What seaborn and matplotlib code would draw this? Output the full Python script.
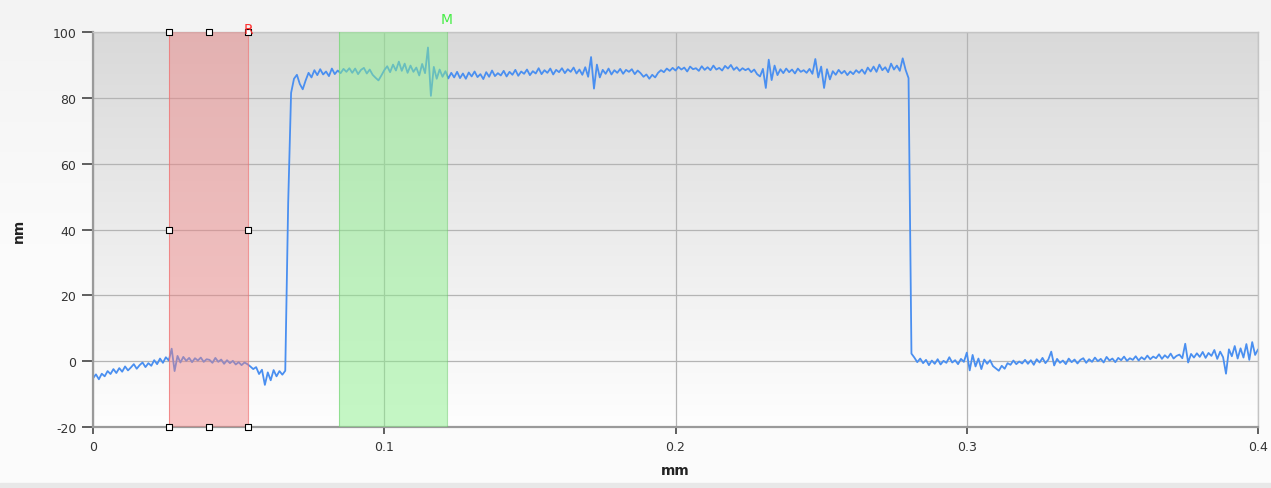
import numpy as np
import pandas as pd
import matplotlib
matplotlib.use('Agg')
import matplotlib.pyplot as plt
import seaborn as sns
from matplotlib.colors import LinearSegmentedColormap
from matplotlib.patches import Rectangle

# 데이터: 0.001 mm 간격으로 읽은 높이 프로파일 (nm)
height_nm = [
    -5.2, -4.0, -5.5, -3.8, -4.6, -3.0, -3.9, -2.4, -3.6, -2.1, -3.2, -1.6, -2.8, -1.9, -0.9, -2.3, -1.2, -0.4, -1.8, -0.6,
    -1.4, 0.3, -0.9, 0.8, -0.5, 1.2, 0.2, 3.8, -3.0, 1.6, -0.4, 1.3, 0.1, 1.0, -0.3, 0.9, 0.2, 1.1, -0.2, 0.6,
    0.4, -0.5, 1.0, -0.2, 0.5, -0.8, 0.3, -0.6, 0.1, -1.0, -0.3, -1.2, -0.4, -0.9, -1.6, -2.4, -1.8, -3.9, -2.6, -7.2,
    -3.4, -5.8, -2.7, -4.6, -3.0, -4.1, -2.9, 48.0, 81.5, 85.8, 87.0, 84.2, 82.6, 85.3, 87.6, 86.2, 88.4, 86.9, 88.7, 87.1,
    88.0, 86.6, 88.9, 87.2, 88.3, 87.5, 88.8, 87.9, 89.0, 87.6, 88.9, 87.2, 88.5, 89.1, 87.4, 88.6, 87.0, 86.1, 85.3, 86.8,
    88.4, 89.6, 87.8, 90.1, 88.3, 91.0, 88.2, 90.4, 87.6, 89.8, 87.9, 89.2, 86.8, 90.3, 87.5, 95.3, 80.6, 89.4, 85.8, 88.6,
    86.4, 88.1, 85.9, 87.6, 86.2, 87.9, 86.0, 87.4, 85.8, 87.7, 86.5, 88.0, 86.3, 87.2, 85.7, 87.8, 86.4, 88.3, 86.6, 87.5,
    86.8, 88.2, 86.5, 87.9, 87.0, 88.5, 86.7, 88.0, 87.3, 88.6, 86.9, 88.1, 87.4, 89.0, 87.2, 88.4, 87.6, 88.9, 87.1, 88.5,
    87.8, 89.0, 87.5, 88.7, 87.9, 89.2, 87.4, 88.6, 87.0, 89.3, 86.4, 92.4, 82.8, 90.1, 86.2, 88.5, 87.3, 88.9, 87.1, 88.4,
    87.6, 88.8, 87.3, 88.5, 87.9, 88.7, 87.2, 88.3, 87.5, 86.4, 87.1, 85.8, 87.0, 86.2, 87.6, 88.4, 87.8, 88.9, 88.2, 89.1,
    88.3, 89.4, 88.6, 89.2, 88.0, 89.5, 88.7, 89.0, 88.2, 89.6, 88.5, 89.3, 88.4, 89.8, 88.6, 89.1, 88.3, 89.7, 88.9, 90.0,
    88.5, 89.3, 88.2, 89.0, 88.4, 88.9, 87.8, 88.6, 87.2, 86.5, 88.8, 83.0, 91.6, 85.4, 89.8, 86.9, 88.7, 87.5, 88.9, 87.8,
    88.6, 87.4, 88.9, 87.9, 88.4, 87.6, 88.8, 87.3, 91.8, 86.2, 89.5, 83.0, 88.7, 85.6, 88.1, 87.0, 88.5, 87.4, 88.2, 86.9,
    88.0, 87.2, 88.4, 87.6, 88.6, 87.3, 89.2, 88.0, 89.5, 87.9, 90.1, 88.4, 89.3, 87.8, 90.4, 88.6, 89.8, 88.2, 92.0, 88.5,
    86.0, 2.3, 1.1, -0.3, 0.8, -0.6, 0.4, -1.2, 0.2, -0.8, 0.6, -1.0, 0.1, -0.5, 1.2, -0.4, 0.3, -0.9, 0.7, -0.2,
    2.6, -2.8, 1.9, -1.6, 0.8, -2.4, 0.5, -0.8, 0.3, -1.5, -2.2, -2.9, -1.4, -2.3, -0.6, -1.1, 0.2, -0.9, -0.1, -0.7,
    0.4, -0.8, 0.3, -1.1, 0.6, -0.4, 1.0, -0.6, 0.5, 2.9, -1.3, 0.7, -0.5, 0.2, -0.9, 0.8, -0.3, 0.5, -0.7, 0.4,
    0.9, -0.5, 0.6, -0.2, 1.1, 0.0, 0.7, -0.4, 1.3, 0.2, 0.8, -0.3, 1.0, 0.3, 1.4, 0.1, 0.9, 0.4, 1.5, 0.2,
    1.2, 0.5, 1.7, 0.6, 1.4, 0.9, 2.1, 0.7, 1.8, 1.0, 2.3, 0.8, 1.6, 2.0, 0.9, 5.3, -0.4, 2.2, 1.1, 2.4,
    1.3, 2.8, 1.0, 2.5, 1.6, 3.4, 0.7, 2.9, 1.2, -3.8, 3.6, 1.5, 4.6, 0.8, 3.9, 1.1, 5.2, 0.4, 5.8, 1.9,
    3.6,
]
position_mm = np.linspace(0, 0.4, len(height_nm))

# 기준(R) / 측정(M) 구간 (mm)
ref_range = [0.0261, 0.0532]
meas_range = [0.0845, 0.1215]

x_ticks = [0, 0.1, 0.2, 0.3, 0.4]
x_tick_labels = ['0', '0.1', '0.2', '0.3', '0.4']
y_ticks = [-20, 0, 20, 40, 60, 80, 100]

df = pd.DataFrame({'mm': position_mm, 'nm': height_nm})

sns.set_theme(style='white')
plt.rcParams['font.family'] = ['DejaVu Sans']
plt.rcParams['axes.unicode_minus'] = False

fig = plt.figure(figsize=(12.71, 4.89), dpi=100)

# 배경 그라데이션
bg = fig.add_axes([0, 0, 1, 1], zorder=-10)
bg_cmap = LinearSegmentedColormap.from_list('bg', ['#f3f3f3', '#fbfbfb', '#fcfcfc'])
bg.imshow(np.linspace(0, 1, 256).reshape(-1, 1), cmap=bg_cmap, aspect='auto', extent=[0, 1, 0, 1], origin='upper')
bg.axis('off')
fig.patches.append(Rectangle((0, 0), 1, 5 / 489, transform=fig.transFigure, color='#e8e8e8', zorder=-5))

ax = fig.add_axes([0.0732, 0.1247, 0.9166, 0.8078])
ax.set_xlim(0, 0.4)
ax.set_ylim(-20, 100)

plot_cmap = LinearSegmentedColormap.from_list('plot', ['#d9d9d9', '#fefefe'])
ax.imshow(np.linspace(0, 1, 256).reshape(-1, 1), cmap=plot_cmap, aspect='auto',
          extent=[0, 1, 0, 1], origin='upper', transform=ax.transAxes, zorder=0)

ax.grid(True, color='#b4b4b4', linewidth=0.9, zorder=1)
ax.set_axisbelow(True)

sns.lineplot(data=df, x='mm', y='nm', ax=ax, color='#4a8ff0', linewidth=1.3,
             estimator=None, zorder=2)

# 구간 표시
ax.axvspan(*ref_range, color='#f08282', alpha=0.45, lw=0, zorder=3)
ax.axvspan(*meas_range, color='#8af08a', alpha=0.49, lw=0, zorder=3)
for xv in ref_range:
    ax.axvline(xv, color='#f07070', lw=0.8, alpha=0.7, zorder=3)
for xv in meas_range:
    ax.axvline(xv, color='#70d070', lw=0.8, alpha=0.6, zorder=3)

# 핸들 사각형
mid = (ref_range[0] + ref_range[1]) / 2
hx = [ref_range[0], mid, ref_range[1], ref_range[0], ref_range[1], ref_range[0], mid, ref_range[1]]
hy = [100, 100, 100, 40, 40, -20, -20, -20]
ax.scatter(hx, hy, marker='s', s=22, facecolor='white', edgecolor='black', linewidth=0.8,
           zorder=6, clip_on=False)

ax.text(ref_range[1], 101, 'R', color='#ff3030', fontsize=10, ha='center', va='center', zorder=7)
ax.text(meas_range[1], 101.8, 'M', color='#44ee44', fontsize=10, ha='center', va='bottom')

ax.set_xticks(x_ticks)
ax.set_xticklabels(x_tick_labels)
ax.set_yticks(y_ticks)
ax.tick_params(axis='y', direction='out', length=8, width=1.2, color='#444444',
               labelsize=9, labelcolor='#333333', pad=4, left=True)
ax.tick_params(axis='x', direction='out', length=5, width=1.2, color='#444444',
               labelsize=9, labelcolor='#333333', pad=4, bottom=True)

for side in ['left', 'bottom']:
    ax.spines[side].set_color('#9a9a9a')
    ax.spines[side].set_linewidth(1.6)
for side in ['top', 'right']:
    ax.spines[side].set_color('#c4c4c4')
    ax.spines[side].set_linewidth(1.0)

ax.set_xlabel('mm', fontsize=10, fontweight='bold', color='#222222')
ax.set_ylabel('nm', fontsize=10, fontweight='bold', color='#222222')
ax.xaxis.set_label_coords(0.5, -0.09)
ax.yaxis.set_label_coords(-0.058, 0.5)

fig.savefig('out.png', dpi=100)
